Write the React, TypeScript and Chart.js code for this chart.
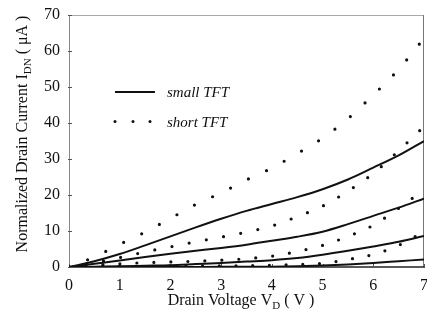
import React, { useEffect, useRef } from "react";
import { Chart, registerables } from "chart.js";

Chart.register(...registerables);

// Drain voltage samples (V)
const voltages = [0, 0.5, 1, 1.5, 2, 2.5, 3, 3.5, 4, 4.5, 5, 5.5, 6, 6.5, 7];

// small TFT (solid lines), normalized drain current (uA)
const small1 = [0, 1.6, 3.6, 6.0, 8.5, 11.0, 13.4, 15.6, 17.5, 19.4, 21.6, 24.3, 27.6, 31.0, 35.0];
const small2 = [0, 0.9, 1.8, 2.8, 3.7, 4.5, 5.3, 6.2, 7.3, 8.4, 9.8, 11.9, 14.2, 16.5, 19.0];
const small3 = [0, 0.1, 0.2, 0.35, 0.5, 0.8, 1.1, 1.5, 1.9, 2.5, 3.4, 4.5, 5.7, 7.0, 8.6];
const small4 = [0, 0, 0, 0, 0, 0.02, 0.04, 0.07, 0.1, 0.2, 0.4, 0.7, 1.1, 1.6, 2.1];

// short TFT (dotted lines)
const short1 = [0, 2.8, 6.3, 9.7, 13.5, 17.4, 20.6, 24.2, 27.5, 31.5, 35.8, 41.2, 47.8, 54.9, 63.5];
const short2 = [0, 1.2, 2.6, 4.2, 5.6, 7.0, 8.3, 9.7, 11.4, 14.0, 16.9, 21.1, 26.0, 32.3, 39.0];
const short3 = [0, 0.5, 0.9, 1.2, 1.4, 1.6, 1.9, 2.3, 3.0, 4.3, 6.0, 8.5, 11.6, 16.3, 21.5];
const short4 = [0, 0.1, 0.15, 0.2, 0.25, 0.3, 0.3, 0.4, 0.5, 0.7, 1.0, 2.1, 3.5, 6.0, 9.8];

const xTicks = [0, 1, 2, 3, 4, 5, 6, 7];
const yTicks = [0, 10, 20, 30, 40, 50, 60, 70];

const legendLabels = ["small TFT", "short TFT"];
const xTitleParts: [string, boolean][] = [["Drain Voltage V", false], ["D", true], [" ( V )", false]];
const yTitleParts: [string, boolean][] = [["Normalized Drain Current I", false], ["DN", true], [" ( \u03bcA )", false]];

const FONT = '"Liberation Serif", "DejaVu Serif", serif';
const INK = "#111";

function drawParts(ctx: CanvasRenderingContext2D, parts: [string, boolean][], cx: number, baseY: number, size: number) {
  const subSize = Math.round(size * 0.68);
  let total = 0;
  for (const [t, sub] of parts) {
    ctx.font = `${sub ? subSize : size}px ${FONT}`;
    total += ctx.measureText(t).width;
  }
  let x = cx - total / 2;
  ctx.textAlign = "left";
  ctx.textBaseline = "alphabetic";
  for (const [t, sub] of parts) {
    ctx.font = `${sub ? subSize : size}px ${FONT}`;
    ctx.fillText(t, x, sub ? baseY + 4 : baseY);
    x += ctx.measureText(t).width;
  }
}

const decorPlugin = {
  id: "decor",
  beforeDatasetsDraw(chart: any) {
    const { ctx, chartArea: a } = chart;
    ctx.save();
    ctx.lineWidth = 1;
    ctx.strokeStyle = "#aaa";
    ctx.beginPath();
    ctx.moveTo(a.left, a.top + 0.5);
    ctx.lineTo(a.right, a.top + 0.5);
    ctx.stroke();
    ctx.strokeStyle = "#777";
    ctx.beginPath();
    ctx.moveTo(a.right - 0.5, a.top);
    ctx.lineTo(a.right - 0.5, a.bottom);
    ctx.stroke();
    ctx.strokeStyle = "#888";
    ctx.beginPath();
    ctx.moveTo(a.left + 0.5, a.top);
    ctx.lineTo(a.left + 0.5, a.bottom);
    ctx.stroke();
    ctx.strokeStyle = "#222";
    ctx.lineWidth = 1.5;
    ctx.beginPath();
    ctx.moveTo(a.left, a.bottom);
    ctx.lineTo(a.right, a.bottom);
    ctx.stroke();
    // small ticks
    ctx.lineWidth = 1;
    ctx.strokeStyle = "#555";
    const xs = chart.scales.x;
    const ys = chart.scales.y;
    for (const v of xTicks) {
      const px = Math.round(xs.getPixelForValue(v)) + 0.5;
      ctx.beginPath();
      ctx.moveTo(px, a.bottom - 3);
      ctx.lineTo(px, a.bottom + 1);
      ctx.stroke();
    }
    for (const v of yTicks) {
      const py = Math.round(ys.getPixelForValue(v)) + 0.5;
      ctx.beginPath();
      ctx.moveTo(a.left - 1, py);
      ctx.lineTo(a.left + 3, py);
      ctx.stroke();
    }
    ctx.restore();
  },
  afterDatasetsDraw(chart: any) {
    const { ctx } = chart;
    ctx.save();
    ctx.fillStyle = INK;
    ctx.strokeStyle = INK;
    // x title
    drawParts(ctx, xTitleParts, 241, 305, 16);
    // y title
    ctx.save();
    ctx.translate(27, 134);
    ctx.rotate(-Math.PI / 2);
    drawParts(ctx, yTitleParts, 0, 0, 16);
    ctx.restore();
    // legend
    ctx.lineWidth = 2;
    ctx.beginPath();
    ctx.moveTo(115, 92);
    ctx.lineTo(155, 92);
    ctx.stroke();
    for (const dx of [115, 133, 150]) {
      ctx.beginPath();
      ctx.arc(dx, 121.5, 1.5, 0, Math.PI * 2);
      ctx.fill();
    }
    ctx.font = `italic 15px ${FONT}`;
    ctx.textAlign = "left";
    ctx.textBaseline = "alphabetic";
    ctx.fillText(legendLabels[0], 167, 97);
    ctx.fillText(legendLabels[1], 167, 127);
    ctx.restore();
  },
};

function toPoints(ys: number[]) {
  return voltages.map((v, i) => ({ x: v, y: ys[i] }));
}

export default function App() {
  const ref = useRef<HTMLCanvasElement | null>(null);
  useEffect(() => {
    if (!ref.current) return;
    const solid = (d: number[]) => ({
      data: toPoints(d),
      borderColor: INK,
      borderWidth: 2,
      pointRadius: 0,
      cubicInterpolationMode: "monotone" as const,
      fill: false,
    });
    const dotted = (d: number[], gap: number) => ({
      data: toPoints(d),
      borderColor: INK,
      borderWidth: 3.2,
      borderDash: [0, gap],
      borderCapStyle: "round" as const,
      pointRadius: 0,
      cubicInterpolationMode: "monotone" as const,
      fill: false,
    });
    const chart = new Chart(ref.current, {
      type: "line",
      data: {
        datasets: [
          solid(small1),
          solid(small2),
          solid(small3),
          solid(small4),
          dotted(short1, 20),
          dotted(short2, 17.5),
          dotted(short3, 17),
          dotted(short4, 16.7),
        ],
      },
      options: {
        animation: false,
        responsive: false,
        devicePixelRatio: 1,
        layout: { padding: { top: 15, right: 3, left: 0, bottom: 0 } },
        plugins: { legend: { display: false }, tooltip: { enabled: false } },
        scales: {
          x: {
            type: "linear",
            min: 0,
            max: 7,
            afterFit: (s: any) => { s.height = 68; s.paddingLeft = 0; s.paddingRight = 0; },
            afterBuildTicks: (s: any) => { s.ticks = xTicks.map((v) => ({ value: v })); },
            grid: { display: false, drawTicks: false },
            border: { display: false },
            ticks: { padding: 9, color: INK, font: { family: FONT, size: 16 }, maxRotation: 0 },
          },
          y: {
            type: "linear",
            min: 0,
            max: 70,
            afterFit: (s: any) => { s.width = 69; s.paddingTop = 0; s.paddingBottom = 0; },
            afterBuildTicks: (s: any) => { s.ticks = yTicks.map((v) => ({ value: v })); },
            grid: { display: false, drawTicks: false },
            border: { display: false },
            ticks: { padding: 9, color: INK, font: { family: FONT, size: 16 } },
          },
        },
      },
      plugins: [decorPlugin],
    });
    return () => chart.destroy();
  }, []);
  return (
    <div style={{ position: "absolute", left: 0, top: 0, width: 427, height: 335, background: "#fff" }}>
      <canvas ref={ref} width={427} height={335} style={{ display: "block" }} />
    </div>
  );
}
